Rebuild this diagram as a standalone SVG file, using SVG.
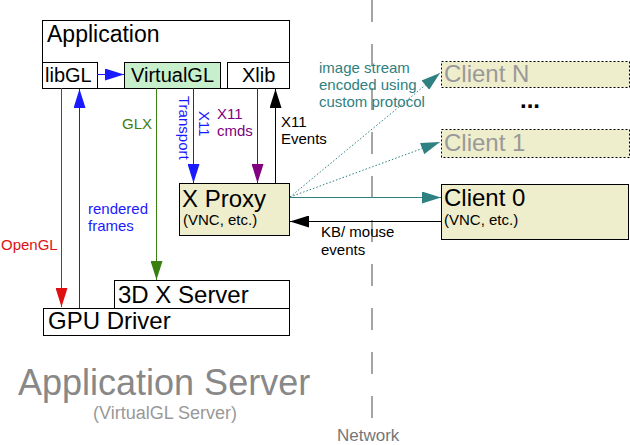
<svg xmlns="http://www.w3.org/2000/svg" width="630" height="445" viewBox="0 0 630 445">
<style>
text{font-family:"Liberation Sans",Arial,sans-serif;}
.box{stroke:#000;stroke-width:1;fill:#fff;}
.khaki{fill:#efeecc;}
.dash{stroke-dasharray:2 2;}
.big{font-size:24px;fill:#000;}
.mid{font-size:20px;fill:#000;}
.sm{font-size:15px;}
.ln{fill:none;stroke-width:1;}
</style>
<defs>
<marker id="aR" markerUnits="userSpaceOnUse" markerWidth="20" markerHeight="12" refX="19" refY="6" orient="auto" viewBox="0 0 19 12"><path d="M0,0 L19,6 L0,12 z" fill="#e01010"/></marker>
<marker id="aB" markerUnits="userSpaceOnUse" markerWidth="20" markerHeight="12" refX="19" refY="6" orient="auto" viewBox="0 0 19 12"><path d="M0,0 L19,6 L0,12 z" fill="#1a1aff"/></marker>
<marker id="aG" markerUnits="userSpaceOnUse" markerWidth="20" markerHeight="12" refX="19" refY="6" orient="auto" viewBox="0 0 19 12"><path d="M0,0 L19,6 L0,12 z" fill="#3a8010"/></marker>
<marker id="aP" markerUnits="userSpaceOnUse" markerWidth="20" markerHeight="12" refX="19" refY="6" orient="auto" viewBox="0 0 19 12"><path d="M0,0 L19,6 L0,12 z" fill="#800080"/></marker>
<marker id="aK" markerUnits="userSpaceOnUse" markerWidth="20" markerHeight="12" refX="19" refY="6" orient="auto" viewBox="0 0 19 12"><path d="M0,0 L19,6 L0,12 z" fill="#000"/></marker>
<marker id="aT" markerUnits="userSpaceOnUse" markerWidth="20" markerHeight="12" refX="19" refY="6" orient="auto" viewBox="0 0 19 12"><path d="M0,0 L19,6 L0,12 z" fill="#2f8080"/></marker>
</defs>

<line x1="372" y1="0" x2="372" y2="418" stroke="#888" stroke-width="1.5" stroke-dasharray="22 22"/>

<g id="application">
<rect class="box" x="42.5" y="20.5" width="247" height="68"/>
<text x="47" y="42" style="font-size:23px">Application</text>
</g>
<g id="libGL">
<rect class="box" x="42.5" y="62.5" width="55" height="26"/>
<text class="mid" x="45" y="82">libGL</text>
</g>
<g id="virtualGL">
<rect class="box" x="124.5" y="62.5" width="96" height="26" style="fill:#c8efcc"/>
<text class="mid" x="131" y="82">VirtualGL</text>
</g>
<g id="xlib">
<rect class="box" x="227.5" y="62.5" width="62" height="26"/>
<text class="mid" x="242" y="82">Xlib</text>
</g>
<g id="xproxy">
<rect class="box khaki" x="179.5" y="183.5" width="110" height="52"/>
<text class="big" x="182" y="207">X Proxy</text>
<text x="183" y="225" style="font-size:15px">(VNC, etc.)</text>
</g>
<g id="x3dserver">
<rect class="box" x="114.5" y="280.5" width="175" height="28"/>
<text class="big" x="118" y="303">3D X Server</text>
</g>
<g id="gpudriver">
<rect class="box" x="43.5" y="308.5" width="246" height="27"/>
<text class="big" x="48" y="329">GPU Driver</text>
</g>
<g id="clientN">
<rect class="box khaki dash" x="441.5" y="61.5" width="188" height="26"/>
<text x="444" y="82" style="font-size:24px;fill:#999">Client N</text>
</g>
<g id="ellipsis">
<text x="520" y="108" style="font-size:24px;font-weight:bold;fill:#000">...</text>
</g>
<g id="client1">
<rect class="box khaki dash" x="441.5" y="129.5" width="188" height="28"/>
<text x="444" y="151" style="font-size:24px;fill:#999">Client 1</text>
</g>
<g id="client0">
<rect class="box khaki" x="441.5" y="184.5" width="187" height="55"/>
<text class="big" x="444" y="206">Client 0</text>
<text x="444" y="225" style="font-size:15px">(VNC, etc.)</text>
</g>

<g id="connectors">
<line class="ln" x1="97" y1="74.5" x2="124" y2="74.5" stroke="#1a1aff" marker-end="url(#aB)"/>
<line class="ln" x1="61.5" y1="88" x2="61.5" y2="307" stroke="#e01010" marker-end="url(#aR)"/>
<line class="ln" x1="79.5" y1="308" x2="79.5" y2="89" stroke="#1a1aff" marker-end="url(#aB)"/>
<line class="ln" x1="156.5" y1="88" x2="156.5" y2="280" stroke="#3a8010" marker-end="url(#aG)"/>
<line class="ln" x1="193.5" y1="88" x2="193.5" y2="183" stroke="#1a1aff" marker-end="url(#aB)"/>
<line class="ln" x1="257.5" y1="88" x2="257.5" y2="183" stroke="#800080" marker-end="url(#aP)"/>
<line class="ln" x1="275.5" y1="183" x2="275.5" y2="89" stroke="#000" marker-end="url(#aK)"/>
<line class="ln" x1="290" y1="197.5" x2="441" y2="197.5" stroke="#2f8080" marker-end="url(#aT)"/>
<line class="ln" x1="441" y1="221.5" x2="290" y2="221.5" stroke="#000" marker-end="url(#aK)"/>
<line class="ln" x1="290" y1="197" x2="440" y2="73" stroke="#2f8080" stroke-dasharray="1.5 2" marker-end="url(#aT)"/>
<line class="ln" x1="290" y1="197" x2="440" y2="142" stroke="#2f8080" stroke-dasharray="1.5 2" marker-end="url(#aT)"/>
</g>

<g id="labels">
<text class="sm" x="319" y="73" fill="#2f8080">image stream</text>
<text class="sm" x="319" y="90" fill="#2f8080">encoded using</text>
<text class="sm" x="319" y="107" fill="#2f8080">custom protocol</text>
<text class="sm" x="281" y="127" fill="#000">X11</text>
<text class="sm" x="281" y="144" fill="#000">Events</text>
<text class="sm" x="321" y="237" fill="#000">KB/ mouse</text>
<text class="sm" x="321" y="255" fill="#000">events</text>
<text class="sm" x="1" y="250" fill="#e01010">OpenGL</text>
<text class="sm" x="88" y="214" fill="#1a1aff">rendered</text>
<text class="sm" x="88" y="231" fill="#1a1aff">frames</text>
<text class="sm" x="122" y="129" fill="#3a8010">GLX</text>
<text class="sm" fill="#1a1aff" transform="translate(178.5,96) rotate(90)">Transport</text>
<text class="sm" fill="#1a1aff" transform="translate(199,111) rotate(90)">X11</text>
<text class="sm" x="217" y="119" fill="#800080">X11</text>
<text class="sm" x="217" y="136" fill="#800080">cmds</text>
<text x="18" y="395" style="font-size:36px;fill:#888">Application Server</text>
<text x="93" y="419" style="font-size:18px;fill:#999">(VirtualGL Server)</text>
<text x="337" y="441" style="font-size:17px;fill:#777">Network</text>
</g>
</svg>
